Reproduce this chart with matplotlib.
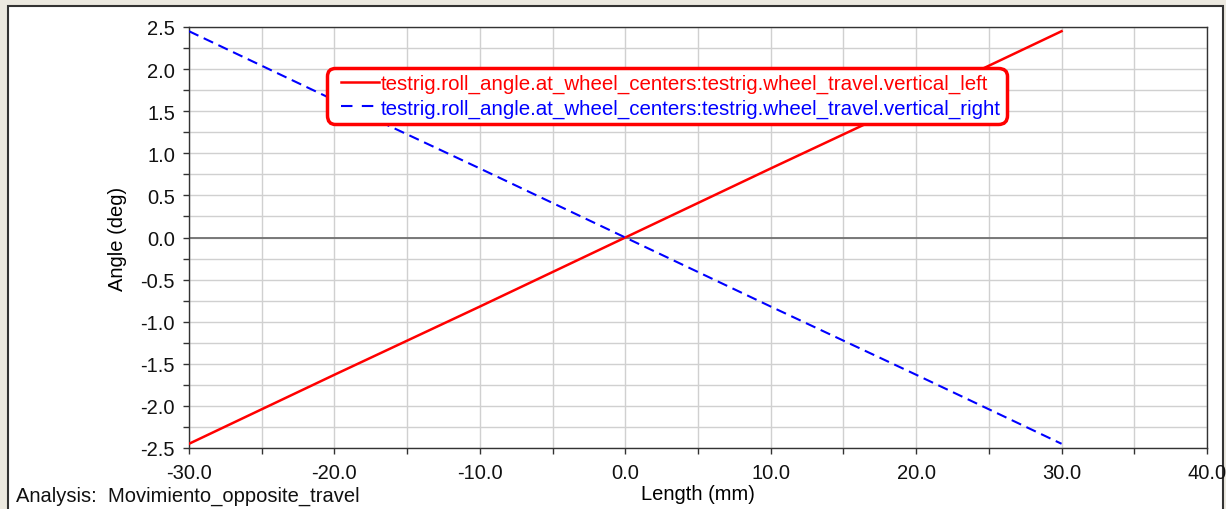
import matplotlib
matplotlib.use("Agg")
import matplotlib.pyplot as plt
from matplotlib.patches import Rectangle
from matplotlib.legend_handler import HandlerLine2D
from matplotlib.ticker import MultipleLocator, FormatStrFormatter

# Wheel travel (mm) and resulting roll angle (deg)
travel_mm = [-30.0, -20.0, -10.0, 0.0, 10.0, 20.0, 30.0]
roll_left_deg = [-2.45, -1.63, -0.82, 0.0, 0.82, 1.63, 2.45]
roll_right_deg = [2.45, 1.63, 0.82, 0.0, -0.82, -1.63, -2.45]

label_left = "testrig.roll_angle.at_wheel_centers:testrig.wheel_travel.vertical_left"
label_right = "testrig.roll_angle.at_wheel_centers:testrig.wheel_travel.vertical_right"
analysis_name = "Analysis:  Movimiento_opposite_travel"

plt.rcParams["font.family"] = ["Liberation Sans", "DejaVu Sans"]
FS = 14.5

W, H = 1226, 510
fig = plt.figure(figsize=(W / 100, H / 100), dpi=100, facecolor="#ece9e0")

# white panel with dark frame
fig.patches.append(Rectangle((8 / W, -0.05), (1223 - 8) / W, (H - 7) / H + 0.05,
                             transform=fig.transFigure, facecolor="white",
                             edgecolor="#333333", linewidth=1.5, zorder=-5))

left, right, top, bottom = 189, 1207, 28, 449
ax = fig.add_axes([left / W, 1 - bottom / H, (right - left) / W, (bottom - top) / H])
ax.set_zorder(2)
ax.set_facecolor("white")

ax.set_xlim(-30, 40)
ax.set_ylim(-2.5, 2.5)
ax.xaxis.set_major_locator(MultipleLocator(10))
ax.xaxis.set_minor_locator(MultipleLocator(5))
ax.yaxis.set_major_locator(MultipleLocator(0.5))
ax.yaxis.set_minor_locator(MultipleLocator(0.25))
ax.xaxis.set_major_formatter(FormatStrFormatter("%.1f"))
ax.yaxis.set_major_formatter(FormatStrFormatter("%.1f"))

ax.grid(True, which="both", color="#d0d0d0", linewidth=1.0)
ax.set_axisbelow(True)
ax.axhline(0, color="#707070", linewidth=1.3, zorder=1)

ax.tick_params(which="both", direction="out", length=4.5, width=1, color="#333333",
               labelsize=FS, labelcolor="#111111")
ax.tick_params(axis="x", which="both", pad=6)
ax.tick_params(axis="y", which="both", pad=5.5)
for s in ax.spines.values():
    s.set_color("#333333")
    s.set_linewidth(1.0)

ax.plot(travel_mm, roll_left_deg, color="#ff0000", linewidth=1.8, label=label_left, zorder=3)
ax.plot(travel_mm, roll_right_deg, color="#0000ff", linewidth=1.5, linestyle=(0, (5, 2.8)),
        label=label_right, zorder=3)

ax.set_ylabel("Angle (deg)", fontsize=FS, labelpad=9.5)
ax.set_xlabel("Length (mm)", fontsize=FS, labelpad=2)
fig.text(16 / W, 1 - 496 / H, analysis_name, fontsize=FS, va="center", ha="left", color="#111111")

# legend handles start a little inside the frame
handler = HandlerLine2D(xpad=0.4)
leg = ax.legend(loc="upper left", bbox_to_anchor=((327 - left) / (right - left), (bottom - 69) / (bottom - top)),
                borderaxespad=0, fontsize=14.75, labelcolor="linecolor", fancybox=True,
                handlelength=2.25, handletextpad=0.1, borderpad=0.28, labelspacing=0.27,
                framealpha=1, edgecolor="#ff0000",
                handler_map={matplotlib.lines.Line2D: handler})
leg.get_frame().set_linewidth(2.5)
leg.get_frame().set_boxstyle("round", pad=0.0, rounding_size=0.4)
leg.get_lines()[1].set_linestyle((0, (5.5, 4.5)))

fig.savefig("out.png", dpi=100, facecolor=fig.get_facecolor())
